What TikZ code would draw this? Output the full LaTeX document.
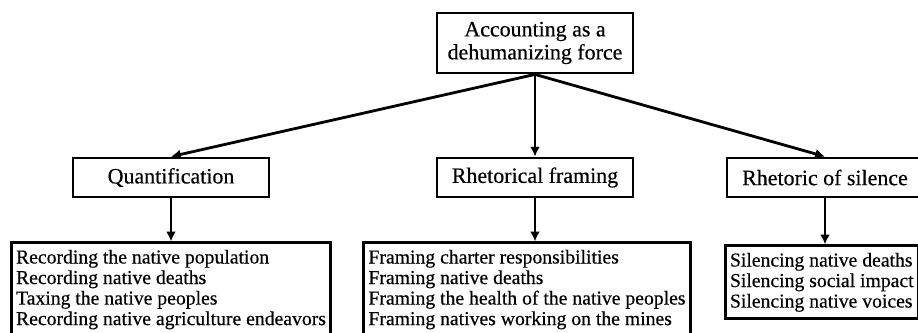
\documentclass[tikz,border=0pt]{standalone}
\usepackage{fontspec}
\setmainfont{Liberation Serif}[FakeBold=0.4]
\usetikzlibrary{positioning,arrows.meta}

\begin{document}
\begin{tikzpicture}[
    line width = 2pt,
    >={Latex[length=7pt,width=7pt]},
    node distance = 3.3625cm,
    head/.style = {draw, minimum height = 0.975cm, minimum width = 4.9cm, inner sep = 0pt, font = \fontsize{15.6}{16.4}\selectfont},
    items/.style = {draw, anchor = north, align = left, inner xsep = 0.12cm, inner ysep = 5pt, font = \fontsize{14}{13}\selectfont}
]
\useasboundingbox (0,0) rectangle (22.95,-8.3);
\node[head] (top) at (13.375,-1.075) [minimum height = 1.5cm, align = center] {Accounting as a\\dehumanizing force};
\node[head] (Quant) [below of = top, xshift = -9.1cm] {Quantification};
\node[head] (Rhet) [below of = top] {Rhetorical framing};
\node[head] (Silence) [below of = top, xshift = 7.25cm] {Rhetoric of silence};
\node[items] (QuantList) [below = 1.075cm of Quant] {Recording the native population\\[1.6pt]Recording native deaths\\[1.6pt]Taxing the native peoples\\[1.6pt]Recording native agriculture endeavors};
\node[items] (RhetList) [below = 1.075cm of Rhet, xshift = -0.2cm] {Framing charter responsibilities\\[1.6pt]Framing native deaths\\[1.6pt]Framing the health of the native peoples\\[1.6pt]Framing natives working on the mines};
\node[items] (SilenceList) [below = 1.15cm of Silence, xshift = -0.08cm] {Silencing native deaths\\[1.6pt]Silencing social impact\\[1.6pt]Silencing native voices};
% arrows
\path[->]
(top.south) edge (Quant.north)
(top.south) edge (Rhet.north)
(top.south) edge (Silence.north)
(Quant) edge (QuantList)
(Rhet) edge (Rhet |- RhetList.north)
(Silence) edge (Silence |- SilenceList.north)
;

\end{tikzpicture}
\end{document}
